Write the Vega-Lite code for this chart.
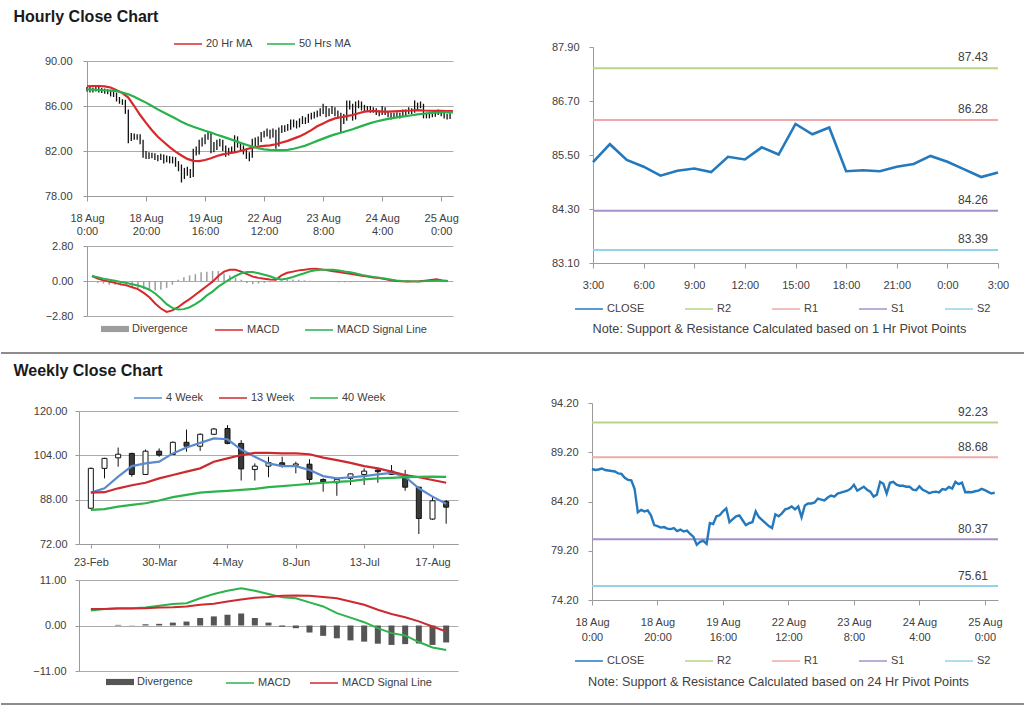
{
"$schema": "https://vega.github.io/schema/vega-lite/v6.json",
"width": 1024,
"height": 706,
"padding": 0,
"background": "white",
"config": {
  "view": {"stroke": null},
  "font": "Liberation Sans",
  "axis": {"labelFont": "Liberation Sans", "labelFontSize": 11, "labelColor": "#404040", "domainColor": "#9a9a9a", "tickColor": "#9a9a9a", "gridColor": "#ababab", "tickSize": 4, "titleFont": "Liberation Sans"},
  "legend": {"labelFont": "Liberation Sans", "labelFontSize": 11, "labelColor": "#404040", "padding": 0, "labelOffset": 3, "symbolSize": 784, "symbolStrokeWidth": 1.5}
},
"datasets": {
  "hr": [
    {"i":0,"c":87.5,"h":87.7,"l":87.3},{"i":1,"c":87.4,"h":87.7,"l":87.2},{"i":2,"c":87.45,"h":87.65,"l":87.2},{"i":3,"c":87.55,"h":87.75,"l":87.3},
    {"i":4,"c":87.4,"h":87.75,"l":87.2},{"i":5,"c":87.35,"h":87.6,"l":87.15},{"i":6,"c":87.3,"h":87.55,"l":87.1},{"i":7,"c":87.25,"h":87.5,"l":87.05},
    {"i":8,"c":87.05,"h":87.45,"l":86.85},{"i":9,"c":87.0,"h":87.25,"l":86.8},{"i":10,"c":86.6,"h":87.2,"l":86.4},{"i":11,"c":86.4,"h":86.8,"l":86.2},
    {"i":12,"c":86.35,"h":86.6,"l":86.1},{"i":13,"c":85.5,"h":86.55,"l":85.3},{"i":14,"c":83.1,"h":85.7,"l":82.7},{"i":15,"c":83.35,"h":83.6,"l":82.9},
    {"i":16,"c":83.2,"h":83.55,"l":83.0},{"i":17,"c":83.3,"h":83.5,"l":83.0},{"i":18,"c":82.8,"h":83.5,"l":82.6},{"i":19,"c":81.8,"h":83.0,"l":81.4},
    {"i":20,"c":81.7,"h":82.0,"l":81.3},{"i":21,"c":81.55,"h":81.9,"l":81.3},{"i":22,"c":81.6,"h":81.85,"l":81.35},{"i":23,"c":81.45,"h":81.8,"l":81.2},
    {"i":24,"c":81.4,"h":81.65,"l":81.1},{"i":25,"c":81.5,"h":81.75,"l":81.2},{"i":26,"c":81.2,"h":81.7,"l":80.9},{"i":27,"c":81.35,"h":81.6,"l":81.0},
    {"i":28,"c":81.15,"h":81.55,"l":80.9},{"i":29,"c":81.25,"h":81.5,"l":80.9},{"i":30,"c":80.9,"h":81.45,"l":80.6},{"i":31,"c":80.6,"h":81.1,"l":80.2},
    {"i":32,"c":79.8,"h":80.8,"l":79.2},{"i":33,"c":80.1,"h":80.5,"l":79.5},{"i":34,"c":80.2,"h":80.6,"l":79.8},{"i":35,"c":79.9,"h":80.4,"l":79.6},
    {"i":36,"c":82.0,"h":82.2,"l":79.7},{"i":37,"c":81.9,"h":82.4,"l":81.6},{"i":38,"c":82.7,"h":83.0,"l":81.7},{"i":39,"c":82.8,"h":83.2,"l":82.4},
    {"i":40,"c":83.2,"h":83.5,"l":82.6},{"i":41,"c":83.5,"h":83.7,"l":83.0},{"i":42,"c":82.1,"h":83.6,"l":81.8},{"i":43,"c":82.4,"h":82.8,"l":81.9},
    {"i":44,"c":82.7,"h":83.0,"l":82.1},{"i":45,"c":82.8,"h":83.1,"l":82.4},{"i":46,"c":82.3,"h":83.0,"l":82.0},{"i":47,"c":81.8,"h":82.5,"l":81.5},
    {"i":48,"c":82.0,"h":82.3,"l":81.6},{"i":49,"c":82.1,"h":82.4,"l":81.8},{"i":50,"c":83.2,"h":83.4,"l":81.9},{"i":51,"c":82.6,"h":83.3,"l":82.3},
    {"i":52,"c":82.3,"h":82.8,"l":82.0},{"i":53,"c":82.0,"h":82.5,"l":81.7},{"i":54,"c":81.7,"h":82.2,"l":81.3},{"i":55,"c":81.5,"h":81.9,"l":81.1},
    {"i":56,"c":82.9,"h":83.1,"l":81.4},{"i":57,"c":82.7,"h":83.2,"l":82.4},{"i":58,"c":83.0,"h":83.3,"l":82.5},{"i":59,"c":83.4,"h":83.7,"l":82.8},
    {"i":60,"c":83.5,"h":83.8,"l":83.2},{"i":61,"c":83.7,"h":84.0,"l":83.3},{"i":62,"c":83.4,"h":83.9,"l":83.1},{"i":63,"c":83.7,"h":84.0,"l":83.2},
    {"i":64,"c":82.6,"h":83.9,"l":82.2},{"i":65,"c":83.8,"h":84.1,"l":82.4},{"i":66,"c":84.0,"h":84.3,"l":83.6},{"i":67,"c":84.0,"h":84.3,"l":83.7},
    {"i":68,"c":84.1,"h":84.4,"l":83.8},{"i":69,"c":84.5,"h":84.8,"l":83.9},{"i":70,"c":84.4,"h":84.8,"l":84.1},{"i":71,"c":84.3,"h":84.7,"l":84.0},
    {"i":72,"c":84.6,"h":84.9,"l":84.1},{"i":73,"c":84.8,"h":85.1,"l":84.4},{"i":74,"c":84.7,"h":85.0,"l":84.4},{"i":75,"c":85.0,"h":85.3,"l":84.5},
    {"i":76,"c":85.1,"h":85.4,"l":84.8},{"i":77,"c":85.2,"h":85.5,"l":84.9},{"i":78,"c":85.3,"h":85.6,"l":85.0},{"i":79,"c":85.5,"h":85.8,"l":85.1},
    {"i":80,"c":85.9,"h":86.2,"l":85.3},{"i":81,"c":85.3,"h":86.0,"l":85.0},{"i":82,"c":85.5,"h":85.8,"l":85.1},{"i":83,"c":85.7,"h":86.0,"l":85.3},
    {"i":84,"c":85.4,"h":85.9,"l":85.1},{"i":85,"c":85.2,"h":85.6,"l":84.9},{"i":86,"c":84.7,"h":85.4,"l":83.6},{"i":87,"c":84.9,"h":85.3,"l":84.4},
    {"i":88,"c":86.2,"h":86.5,"l":84.7},{"i":89,"c":86.0,"h":86.5,"l":85.7},{"i":90,"c":85.0,"h":86.2,"l":84.7},{"i":91,"c":86.1,"h":86.4,"l":84.8},
    {"i":92,"c":86.2,"h":86.5,"l":85.8},{"i":93,"c":85.9,"h":86.4,"l":85.6},{"i":94,"c":85.8,"h":86.1,"l":85.5},{"i":95,"c":85.8,"h":86.0,"l":85.5},
    {"i":96,"c":85.7,"h":86.0,"l":85.4},{"i":97,"c":85.7,"h":85.9,"l":85.4},{"i":98,"c":85.4,"h":85.8,"l":85.2},{"i":99,"c":85.34,"h":85.6,"l":85.1},
    {"i":100,"c":85.74,"h":86.0,"l":85.2},{"i":101,"c":85.39,"h":85.9,"l":85.2},{"i":102,"c":85.24,"h":85.5,"l":85.0},{"i":103,"c":85.04,"h":85.4,"l":84.8},
    {"i":104,"c":85.15,"h":85.4,"l":84.9},{"i":105,"c":85.2,"h":85.45,"l":84.95},{"i":106,"c":85.12,"h":85.4,"l":84.9},{"i":107,"c":85.46,"h":85.7,"l":85.0},
    {"i":108,"c":85.4,"h":85.7,"l":85.2},{"i":109,"c":85.67,"h":85.9,"l":85.3},{"i":110,"c":85.51,"h":85.8,"l":85.3},{"i":111,"c":86.19,"h":86.5,"l":85.4},
    {"i":112,"c":85.96,"h":86.3,"l":85.7},{"i":113,"c":86.11,"h":86.4,"l":85.8},{"i":114,"c":85.14,"h":86.2,"l":84.9},{"i":115,"c":85.16,"h":85.4,"l":84.9},
    {"i":116,"c":85.14,"h":85.4,"l":84.9},{"i":117,"c":85.24,"h":85.5,"l":85.0},{"i":118,"c":85.3,"h":85.55,"l":85.05},{"i":119,"c":85.48,"h":85.7,"l":85.2},
    {"i":120,"c":85.35,"h":85.6,"l":85.1},{"i":121,"c":85.18,"h":85.5,"l":84.9},{"i":122,"c":85.01,"h":85.3,"l":84.8},{"i":123,"c":85.11,"h":85.35,"l":84.85}
  ],
  "hind": [
    {"i":0,"m20":87.75,"m50":87.48,"macd":0.4,"sig":0.4,"div":-0.05},{"i":2,"m20":87.78,"m50":87.45,"macd":0.2,"sig":0.3,"div":-0.15},
    {"i":4,"m20":87.78,"m50":87.42,"macd":0.05,"sig":0.19,"div":-0.2},{"i":6,"m20":87.75,"m50":87.4,"macd":-0.05,"sig":0.1,"div":-0.3},
    {"i":8,"m20":87.65,"m50":87.37,"macd":-0.15,"sig":0.02,"div":-0.3},{"i":10,"m20":87.4,"m50":87.33,"macd":-0.27,"sig":-0.08,"div":-0.35},
    {"i":12,"m20":87.15,"m50":87.2,"macd":-0.35,"sig":-0.16,"div":-0.4},{"i":14,"m20":86.75,"m50":87.05,"macd":-0.5,"sig":-0.26,"div":-0.5},
    {"i":16,"m20":86.0,"m50":86.83,"macd":-0.65,"sig":-0.36,"div":-0.55},{"i":18,"m20":85.2,"m50":86.55,"macd":-0.95,"sig":-0.5,"div":-0.65},
    {"i":20,"m20":84.5,"m50":86.3,"macd":-1.3,"sig":-0.7,"div":-0.75},{"i":22,"m20":83.85,"m50":86.0,"macd":-1.8,"sig":-1.0,"div":-0.75},
    {"i":24,"m20":83.27,"m50":85.7,"macd":-2.2,"sig":-1.4,"div":-0.7},{"i":26,"m20":82.8,"m50":85.42,"macd":-2.47,"sig":-1.85,"div":-0.55},
    {"i":28,"m20":82.35,"m50":85.15,"macd":-2.35,"sig":-2.15,"div":-0.3},{"i":30,"m20":81.95,"m50":84.88,"macd":-2.1,"sig":-2.28,"div":0.1},
    {"i":32,"m20":81.6,"m50":84.6,"macd":-1.75,"sig":-2.25,"div":0.3},{"i":34,"m20":81.3,"m50":84.35,"macd":-1.45,"sig":-2.1,"div":0.45},
    {"i":36,"m20":81.12,"m50":84.15,"macd":-1.1,"sig":-1.85,"div":0.55},{"i":38,"m20":81.1,"m50":83.98,"macd":-0.75,"sig":-1.55,"div":0.7},
    {"i":40,"m20":81.2,"m50":83.8,"macd":-0.4,"sig":-1.15,"div":0.75},{"i":42,"m20":81.35,"m50":83.65,"macd":-0.05,"sig":-0.85,"div":0.8},
    {"i":44,"m20":81.55,"m50":83.45,"macd":0.4,"sig":-0.45,"div":0.8},{"i":46,"m20":81.7,"m50":83.28,"macd":0.75,"sig":-0.15,"div":0.6},
    {"i":48,"m20":81.8,"m50":83.1,"macd":0.9,"sig":0.15,"div":0.45},{"i":50,"m20":81.88,"m50":82.92,"macd":0.9,"sig":0.4,"div":0.25},
    {"i":52,"m20":82.0,"m50":82.72,"macd":0.75,"sig":0.62,"div":0.1},{"i":54,"m20":82.15,"m50":82.55,"macd":0.55,"sig":0.72,"div":-0.15},
    {"i":56,"m20":82.3,"m50":82.39,"macd":0.35,"sig":0.72,"div":-0.25},{"i":58,"m20":82.4,"m50":82.25,"macd":0.25,"sig":0.62,"div":-0.2},
    {"i":60,"m20":82.45,"m50":82.15,"macd":0.18,"sig":0.5,"div":-0.15},{"i":62,"m20":82.5,"m50":82.1,"macd":0.12,"sig":0.38,"div":-0.1},
    {"i":64,"m20":82.6,"m50":82.08,"macd":0.1,"sig":0.2,"div":0.05},{"i":66,"m20":82.75,"m50":82.08,"macd":0.45,"sig":0.12,"div":0.15},
    {"i":68,"m20":82.9,"m50":82.1,"macd":0.66,"sig":0.2,"div":0.15},{"i":70,"m20":83.1,"m50":82.2,"macd":0.75,"sig":0.32,"div":0.12},
    {"i":72,"m20":83.3,"m50":82.33,"macd":0.85,"sig":0.48,"div":0.1},{"i":74,"m20":83.55,"m50":82.48,"macd":0.9,"sig":0.62,"div":0.05},
    {"i":76,"m20":83.85,"m50":82.68,"macd":0.97,"sig":0.78,"div":0.02},{"i":78,"m20":84.2,"m50":82.9,"macd":0.98,"sig":0.86,"div":-0.03},
    {"i":80,"m20":84.45,"m50":83.1,"macd":0.93,"sig":0.9,"div":-0.05},{"i":82,"m20":84.7,"m50":83.3,"macd":0.85,"sig":0.9,"div":-0.05},
    {"i":84,"m20":84.9,"m50":83.48,"macd":0.78,"sig":0.9,"div":-0.07},{"i":86,"m20":85.0,"m50":83.62,"macd":0.72,"sig":0.85,"div":-0.1},
    {"i":88,"m20":85.1,"m50":83.78,"macd":0.64,"sig":0.76,"div":-0.1},{"i":90,"m20":85.2,"m50":83.93,"macd":0.58,"sig":0.7,"div":-0.1},
    {"i":92,"m20":85.35,"m50":84.12,"macd":0.5,"sig":0.6,"div":-0.08},{"i":94,"m20":85.5,"m50":84.3,"macd":0.42,"sig":0.48,"div":-0.07},
    {"i":96,"m20":85.55,"m50":84.48,"macd":0.35,"sig":0.4,"div":-0.05},{"i":98,"m20":85.55,"m50":84.62,"macd":0.28,"sig":0.33,"div":-0.05},
    {"i":100,"m20":85.5,"m50":84.75,"macd":0.24,"sig":0.27,"div":-0.04},{"i":102,"m20":85.5,"m50":84.85,"macd":0.15,"sig":0.2,"div":-0.04},
    {"i":104,"m20":85.52,"m50":84.95,"macd":0.05,"sig":0.12,"div":-0.04},{"i":106,"m20":85.55,"m50":85.03,"macd":0.0,"sig":0.05,"div":-0.03},
    {"i":108,"m20":85.58,"m50":85.1,"macd":-0.03,"sig":0.0,"div":-0.03},{"i":110,"m20":85.6,"m50":85.18,"macd":-0.04,"sig":-0.02,"div":-0.02},
    {"i":112,"m20":85.64,"m50":85.26,"macd":-0.03,"sig":-0.03,"div":-0.01},{"i":114,"m20":85.6,"m50":85.31,"macd":-0.02,"sig":-0.03,"div":0.0},
    {"i":116,"m20":85.58,"m50":85.36,"macd":0.03,"sig":-0.01,"div":0.02},{"i":118,"m20":85.56,"m50":85.4,"macd":0.08,"sig":0.0,"div":0.03},
    {"i":120,"m20":85.56,"m50":85.42,"macd":0.13,"sig":0.02,"div":0.03},{"i":122,"m20":85.55,"m50":85.44,"macd":0.05,"sig":0.02,"div":0.01},
    {"i":124,"m20":85.55,"m50":85.44,"macd":0.0,"sig":0.0,"div":0.0}
  ],
  "wk": [
    {"w":0,"d":"23-Feb","o":84.9,"c":99.3,"h":99.6,"l":84.6,"m4":90.55,"m13":90.55,"m40":84.3,"macd":3.6,"sig":4.0,"div":0.0},
    {"w":1,"d":"2-Mar","o":99.3,"c":102.9,"h":103.1,"l":95.7,"m4":92.1,"m13":90.7,"m40":84.6,"macd":4.0,"sig":4.0,"div":0.0},
    {"w":2,"d":"9-Mar","o":103.1,"c":104.4,"h":106.8,"l":99.9,"m4":96.3,"m13":92.1,"m40":85.5,"macd":4.2,"sig":4.1,"div":0.15},
    {"w":3,"d":"16-Mar","o":104.7,"c":97.1,"h":104.9,"l":96.3,"m4":100.1,"m13":93.2,"m40":86.1,"macd":4.2,"sig":4.1,"div":0.05},
    {"w":4,"d":"23-Mar","o":97.1,"c":105.5,"h":106.1,"l":96.9,"m4":101.1,"m13":94.1,"m40":86.7,"macd":4.35,"sig":4.2,"div":0.3},
    {"w":5,"d":"30-Mar","o":105.5,"c":104.1,"h":106.5,"l":103.5,"m4":101.7,"m13":95.7,"m40":87.7,"macd":4.8,"sig":4.35,"div":0.4},
    {"w":6,"d":"6-Apr","o":104.3,"c":108.7,"h":109.0,"l":104.1,"m4":104.7,"m13":96.9,"m40":88.9,"macd":5.2,"sig":4.4,"div":0.7},
    {"w":7,"d":"13-Apr","o":108.7,"c":107.3,"h":113.3,"l":105.3,"m4":106.8,"m13":98.1,"m40":89.7,"macd":5.4,"sig":4.6,"div":0.95},
    {"w":8,"d":"20-Apr","o":107.3,"c":111.6,"h":111.9,"l":105.6,"m4":108.5,"m13":99.3,"m40":90.55,"macd":6.6,"sig":5.0,"div":1.8},
    {"w":9,"d":"27-Apr","o":111.6,"c":113.5,"h":113.9,"l":111.3,"m4":110.1,"m13":101.7,"m40":90.9,"macd":7.6,"sig":5.25,"div":2.2},
    {"w":10,"d":"4-May","o":113.7,"c":108.3,"h":114.9,"l":108.0,"m4":109.8,"m13":102.9,"m40":91.2,"macd":8.4,"sig":5.8,"div":2.6},
    {"w":11,"d":"11-May","o":108.3,"c":99.1,"h":109.5,"l":94.9,"m4":106.1,"m13":104.1,"m40":91.5,"macd":9.0,"sig":6.3,"div":2.9},
    {"w":12,"d":"18-May","o":98.9,"c":100.1,"h":101.1,"l":94.9,"m4":103.5,"m13":104.9,"m40":91.9,"macd":8.4,"sig":6.7,"div":1.8},
    {"w":13,"d":"25-May","o":100.1,"c":101.4,"h":103.5,"l":96.1,"m4":101.1,"m13":104.9,"m40":92.5,"macd":7.6,"sig":6.9,"div":0.7},
    {"w":14,"d":"1-Jun","o":101.3,"c":100.1,"h":103.5,"l":99.6,"m4":100.1,"m13":104.7,"m40":92.9,"macd":6.8,"sig":7.2,"div":-0.3},
    {"w":15,"d":"8-Jun","o":100.4,"c":100.9,"h":101.7,"l":97.5,"m4":100.1,"m13":104.7,"m40":93.3,"macd":6.6,"sig":7.25,"div":-0.65},
    {"w":16,"d":"15-Jun","o":100.8,"c":95.3,"h":102.6,"l":94.1,"m4":98.7,"m13":104.4,"m40":93.7,"macd":5.6,"sig":7.2,"div":-1.7},
    {"w":17,"d":"22-Jun","o":95.3,"c":94.5,"h":95.7,"l":90.9,"m4":96.5,"m13":103.2,"m40":94.1,"macd":4.6,"sig":6.9,"div":-2.5},
    {"w":18,"d":"29-Jun","o":94.1,"c":95.3,"h":95.7,"l":89.4,"m4":95.7,"m13":102.3,"m40":94.4,"macd":3.0,"sig":6.6,"div":-3.1},
    {"w":19,"d":"6-Jul","o":95.7,"c":97.3,"h":97.5,"l":93.3,"m4":96.1,"m13":101.3,"m40":94.7,"macd":1.9,"sig":5.8,"div":-3.6},
    {"w":20,"d":"13-Jul","o":97.1,"c":98.3,"h":99.3,"l":93.3,"m4":96.5,"m13":100.1,"m40":95.3,"macd":0.8,"sig":5.0,"div":-3.9},
    {"w":21,"d":"20-Jul","o":98.7,"c":98.1,"h":99.3,"l":94.1,"m4":97.1,"m13":99.3,"m40":95.7,"macd":-0.65,"sig":3.8,"div":-4.4},
    {"w":22,"d":"27-Jul","o":97.1,"c":98.3,"h":100.5,"l":96.9,"m4":97.7,"m13":98.1,"m40":95.9,"macd":-1.85,"sig":2.8,"div":-4.7},
    {"w":23,"d":"3-Aug","o":96.9,"c":92.5,"h":98.7,"l":91.2,"m4":96.3,"m13":96.9,"m40":96.1,"macd":-2.4,"sig":2.0,"div":-4.5},
    {"w":24,"d":"10-Aug","o":92.5,"c":81.2,"h":92.7,"l":75.6,"m4":92.1,"m13":96.1,"m40":96.2,"macd":-4.0,"sig":1.0,"div":-4.35},
    {"w":25,"d":"17-Aug","o":81.0,"c":87.6,"h":89.1,"l":80.7,"m4":89.1,"m13":95.1,"m40":96.3,"macd":-5.3,"sig":-0.25,"div":-4.7},
    {"w":26,"d":"24-Aug","o":87.3,"c":85.3,"h":87.9,"l":79.3,"m4":86.5,"m13":94.1,"m40":96.2,"macd":-5.9,"sig":-1.45,"div":-4.1}
  ],
  "lv1": [{"name":"R2","v":87.43},{"name":"R1","v":86.28},{"name":"S1","v":84.26},{"name":"S2","v":83.39}],
  "lv2": [{"name":"R2","v":92.23},{"name":"R1","v":88.68},{"name":"S1","v":80.37},{"name":"S2","v":75.61}],
  "seps": [{"section":1},{"section":2}]
},
"resolve": {
  "scale": {"x": "independent", "y": "independent", "color": "independent", "fill": "independent", "stroke": "independent"},
  "axis": {"x": "independent", "y": "independent"},
  "legend": {"color": "independent", "fill": "independent", "stroke": "independent"}
},
"layer": [
  {"data": {"name": "seps"}, "mark": {"type": "rule", "color": "#8c8c8c", "strokeWidth": 2},
   "encoding": {"y": {"field": "section", "type": "quantitative", "scale": {"domain": [1, 2], "range": [353, 704], "nice": false, "zero": false}, "axis": null}}},
  {
    "layer": [
      {"data": {"name": "hr"}, "mark": {"type": "rule", "color": "#111111", "strokeWidth": 1.3},
       "encoding": {
         "x": {"field": "i", "type": "quantitative", "scale": {"domain": [0, 124], "range": [86, 452], "nice": false, "zero": false},
               "axis": {"orient": "bottom", "offset": -510, "values": [0, 20, 40, 60, 80, 100, 120], "title": null, "grid": false, "labelFlush": false, "labelPadding": 11, "tickSize": 5, "labelLineHeight": 13,
                        "labelExpr": "datum.value==0?['18 Aug','0:00']:datum.value==20?['18 Aug','20:00']:datum.value==40?['19 Aug','16:00']:datum.value==60?['22 Aug','12:00']:datum.value==80?['23 Aug','8:00']:datum.value==100?['24 Aug','4:00']:['25 Aug','0:00']"}},
         "y": {"field": "l", "type": "quantitative", "scale": {"domain": [78, 90], "range": [196, 61], "nice": false},
               "axis": {"orient": "left", "offset": -86, "values": [78, 82, 86, 90], "format": ".2f", "grid": true, "labelPadding": 11,
                        "title": "Hourly Close Chart", "titleAngle": 0, "titleX": -74, "titleY": 21, "titleAlign": "left", "titleBaseline": "alphabetic", "titleFontSize": 16, "titleFontWeight": "bold", "titleColor": "#1a1a1a"}},
         "y2": {"field": "h"}}},
      {"data": {"name": "hind"}, "transform": [{"fold": ["m20", "m50"], "as": ["s", "v"]}],
       "mark": {"type": "line", "strokeWidth": 2.2},
       "encoding": {
         "x": {"field": "i", "type": "quantitative"},
         "y": {"field": "v", "type": "quantitative"},
         "color": {"field": "s", "type": "nominal", "scale": {"domain": ["m20", "m50"], "range": ["#d8282c", "#27b24c"]},
                   "legend": {"orient": "none", "legendX": 172, "legendY": 29, "direction": "horizontal", "title": null, "symbolType": "stroke", "columnPadding": 11,
                              "labelExpr": "datum.label=='m20'?'20 Hr MA':'50 Hrs MA'"}}}}
    ]
  },
  {
    "data": {"name": "hind"},
    "layer": [
      {"mark": {"type": "bar", "size": 1.5},
       "encoding": {
         "x": {"field": "i", "type": "quantitative", "scale": {"domain": [0, 124], "range": [86, 452], "nice": false, "zero": false}, "axis": null},
         "y": {"field": "div", "type": "quantitative", "scale": {"domain": [-2.8, 2.8], "range": [316, 246], "nice": false},
               "axis": {"orient": "left", "offset": -86, "values": [-2.8, 0, 2.8], "format": ".2f", "title": null, "grid": true, "labelPadding": 10}},
         "fill": {"datum": "Divergence", "scale": {"range": ["#9d9d9d"]},
                  "legend": {"orient": "none", "legendX": 100, "legendY": 315, "direction": "horizontal", "title": null, "symbolType": "M-1,-0.22H1V0.22H-1Z", "symbolStrokeWidth": 0}}}},
      {"transform": [{"fold": ["macd", "sig"], "as": ["s", "v"]}],
       "mark": {"type": "line", "strokeWidth": 2},
       "encoding": {
         "x": {"field": "i", "type": "quantitative"},
         "y": {"field": "v", "type": "quantitative"},
         "stroke": {"field": "s", "type": "nominal", "scale": {"domain": ["macd", "sig"], "range": ["#d8282c", "#27b24c"]},
                    "legend": {"orient": "none", "legendX": 213, "legendY": 315, "direction": "horizontal", "title": null, "symbolType": "stroke", "columnPadding": 22,
                               "labelExpr": "datum.label=='macd'?'MACD':'MACD Signal Line'"}}}}
    ]
  },
  {
    "layer": [
      {"data": {"name": "lv1"}, "mark": {"type": "rule", "strokeWidth": 2},
       "encoding": {
         "x": {"datum": 99},
         "x2": {"datum": 123},
         "y": {"field": "v", "type": "quantitative", "scale": {"domain": [83.1, 87.9], "range": [263, 47], "nice": false},
               "axis": {"orient": "left", "offset": -592, "values": [83.1, 84.3, 85.5, 86.7, 87.9], "format": ".2f", "title": null, "grid": false, "labelPadding": 10}},
         "color": {"field": "name", "type": "nominal", "scale": {"domain": ["CLOSE", "R2", "R1", "S1", "S2"], "range": ["#2479bd", "#b9d38a", "#eeaaaa", "#a690cb", "#93d3e8"]},
                   "legend": {"orient": "none", "legendX": 573, "legendY": 294, "direction": "horizontal", "title": null, "symbolType": "stroke", "columnPadding": 37}}}},
      {"data": {"name": "hr"}, "transform": [{"filter": "datum.i >= 99"}],
       "mark": {"type": "line", "strokeWidth": 2.6},
       "encoding": {
         "x": {"field": "i", "type": "quantitative", "scale": {"domain": [99, 123], "range": [592, 997], "nice": false, "zero": false},
               "axis": {"orient": "bottom", "offset": -443, "values": [99, 102, 105, 108, 111, 114, 117, 120, 123], "labelExpr": "((datum.value - 96) % 24) + ':00'", "grid": false, "labelFlush": false, "tickSize": 5, "labelPadding": 11,
                        "title": "Note: Support & Resistance Calculated based on 1 Hr Pivot Points", "titleX": 778, "titleY": 65, "titleAlign": "center", "titleBaseline": "middle", "titleFontSize": 12.7, "titleFontWeight": "normal", "titleColor": "#404040"}},
         "y": {"field": "c", "type": "quantitative"},
         "color": {"datum": "CLOSE"}}},
      {"data": {"name": "lv1"}, "mark": {"type": "text", "align": "right", "baseline": "middle", "dx": -10, "dy": -11, "fontSize": 12, "color": "#404040"},
       "encoding": {
         "x": {"datum": 123},
         "y": {"field": "v", "type": "quantitative"},
         "text": {"field": "v", "type": "quantitative", "format": ".2f"}}}
    ]
  },
  {
    "data": {"name": "wk"},
    "layer": [
      {"mark": {"type": "rule", "color": "#111111", "strokeWidth": 1},
       "encoding": {
         "x": {"field": "w", "type": "quantitative", "scale": {"domain": [-0.5, 26.5], "range": [78, 457], "nice": false, "zero": false},
               "axis": {"orient": "bottom", "offset": -162, "values": [0, 5, 10, 15, 20, 25], "title": null, "grid": false, "labelFlush": false, "labelPadding": 8, "tickSize": 4,
                        "labelExpr": "['23-Feb','30-Mar','4-May','8-Jun','13-Jul','17-Aug'][round(datum.value/5)]"}},
         "y": {"field": "l", "type": "quantitative", "scale": {"domain": [72, 120], "range": [544, 411], "nice": false},
               "axis": {"orient": "left", "offset": -78, "values": [72, 88, 104, 120], "format": ".2f", "grid": true, "labelPadding": 8,
                        "title": "Weekly Close Chart", "titleAngle": 0, "titleX": -66, "titleY": 375, "titleAlign": "left", "titleBaseline": "alphabetic", "titleFontSize": 16, "titleFontWeight": "bold", "titleColor": "#1a1a1a"}},
         "y2": {"field": "h"}}},
      {"mark": {"type": "bar", "size": 5, "stroke": "#111111", "strokeWidth": 1},
       "encoding": {
         "x": {"field": "w", "type": "quantitative"},
         "y": {"field": "o", "type": "quantitative"},
         "y2": {"field": "c"},
         "fill": {"condition": {"test": "datum.c < datum.o", "value": "#3a3a3a"}, "value": "#ffffff"}}},
      {"transform": [{"fold": ["m4", "m13", "m40"], "as": ["s", "v"]}],
       "mark": {"type": "line", "strokeWidth": 2.2},
       "encoding": {
         "x": {"field": "w", "type": "quantitative"},
         "y": {"field": "v", "type": "quantitative"},
         "color": {"field": "s", "type": "nominal", "scale": {"domain": ["m4", "m13", "m40"], "range": ["#5a8bcf", "#cb2b2f", "#2db34d"]},
                   "legend": {"orient": "none", "legendX": 132, "legendY": 383, "direction": "horizontal", "title": null, "symbolType": "stroke", "columnPadding": 12,
                              "labelExpr": "datum.label=='m4'?'4 Week':datum.label=='m13'?'13 Week':'40 Week'"}}}}
    ]
  },
  {
    "data": {"name": "wk"},
    "layer": [
      {"mark": {"type": "bar", "size": 6},
       "encoding": {
         "x": {"field": "w", "type": "quantitative", "scale": {"domain": [-0.5, 26.5], "range": [78, 457], "nice": false, "zero": false}, "axis": null},
         "y": {"field": "div", "type": "quantitative", "scale": {"domain": [-11, 11], "range": [671, 580], "nice": false},
               "axis": {"orient": "left", "offset": -78, "values": [-11, 0, 11], "format": ".2f", "title": null, "grid": true, "labelPadding": 9}},
         "fill": {"datum": "Divergence", "scale": {"range": ["#555555"]},
                  "legend": {"orient": "none", "legendX": 105, "legendY": 668, "direction": "horizontal", "title": null, "symbolType": "M-1,-0.22H1V0.22H-1Z", "symbolStrokeWidth": 0}}}},
      {"transform": [{"fold": ["macd", "sig"], "as": ["s", "v"]}],
       "mark": {"type": "line", "strokeWidth": 2},
       "encoding": {
         "x": {"field": "w", "type": "quantitative"},
         "y": {"field": "v", "type": "quantitative"},
         "stroke": {"field": "s", "type": "nominal", "scale": {"domain": ["macd", "sig"], "range": ["#2db34d", "#cb2b2f"]},
                    "legend": {"orient": "none", "legendX": 224, "legendY": 668, "direction": "horizontal", "title": null, "symbolType": "stroke", "columnPadding": 16,
                               "labelExpr": "datum.label=='macd'?'MACD':'MACD Signal Line'"}}}}
    ]
  },
  {
    "layer": [
      {"data": {"name": "lv2"}, "mark": {"type": "rule", "strokeWidth": 2},
       "encoding": {
         "x": {"datum": 0},
         "x2": {"datum": 124},
         "y": {"field": "v", "type": "quantitative", "scale": {"domain": [74.2, 94.2], "range": [600, 403], "nice": false},
               "axis": {"orient": "left", "offset": -591, "values": [74.2, 79.2, 84.2, 89.2, 94.2], "format": ".2f", "title": null, "grid": false, "labelPadding": 10}},
         "color": {"field": "name", "type": "nominal", "scale": {"domain": ["CLOSE", "R2", "R1", "S1", "S2"], "range": ["#2479bd", "#b9d38a", "#eeaaaa", "#a690cb", "#93d3e8"]},
                   "legend": {"orient": "none", "legendX": 573, "legendY": 646, "direction": "horizontal", "title": null, "symbolType": "stroke", "columnPadding": 37}}}},
      {"data": {"name": "hr"},
       "mark": {"type": "line", "strokeWidth": 2.4},
       "encoding": {
         "x": {"field": "i", "type": "quantitative", "scale": {"domain": [0, 124], "range": [591, 997], "nice": false, "zero": false},
               "axis": {"orient": "bottom", "offset": -106, "values": [0, 20, 40, 60, 80, 100, 120], "grid": false, "labelFlush": false, "tickSize": 5, "labelPadding": 11, "labelLineHeight": 15,
                        "labelExpr": "datum.value==0?['18 Aug','0:00']:datum.value==20?['18 Aug','20:00']:datum.value==40?['19 Aug','16:00']:datum.value==60?['22 Aug','12:00']:datum.value==80?['23 Aug','8:00']:datum.value==100?['24 Aug','4:00']:['25 Aug','0:00']",
                        "title": "Note:  Support & Resistance Calculated based on 24 Hr Pivot Points", "titleX": 777, "titleY": 81, "titleAlign": "center", "titleBaseline": "middle", "titleFontSize": 12.7, "titleFontWeight": "normal", "titleColor": "#404040"}},
         "y": {"field": "c", "type": "quantitative"},
         "color": {"datum": "CLOSE"}}},
      {"data": {"name": "lv2"}, "mark": {"type": "text", "align": "right", "baseline": "middle", "dx": -10, "dy": -10, "fontSize": 12, "color": "#404040"},
       "encoding": {
         "x": {"datum": 124},
         "y": {"field": "v", "type": "quantitative"},
         "text": {"field": "v", "type": "quantitative", "format": ".2f"}}}
    ]
  }
]
}
